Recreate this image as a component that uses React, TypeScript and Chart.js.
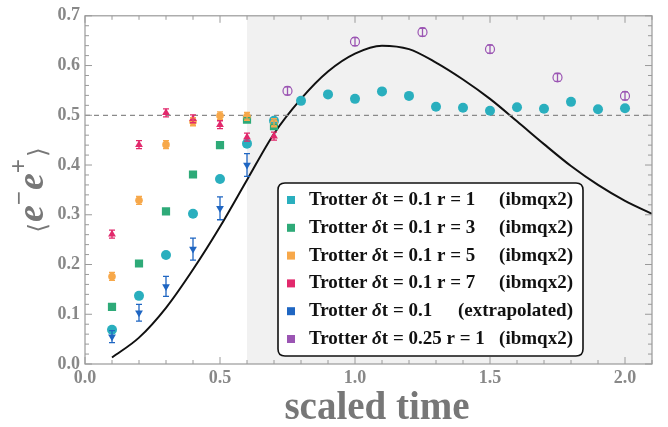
import React, { useEffect, useRef } from 'react';
import { Chart, registerables } from 'chart.js';

Chart.register(...registerables);

// ---------- data ----------
const timesR1 = [0.1, 0.2, 0.3, 0.4, 0.5, 0.6, 0.7, 0.8, 0.9, 1.0, 1.1, 1.2, 1.3, 1.4, 1.5, 1.6, 1.7, 1.8, 1.9, 2.0];
const r1Values = [0.069, 0.137, 0.219, 0.302, 0.372, 0.443, 0.489, 0.529, 0.542, 0.533, 0.548, 0.539, 0.517, 0.515, 0.509, 0.516, 0.513, 0.527, 0.512, 0.514];
const r1Errors = [0.004, 0.004, 0.004, 0.004, 0.004, 0.004, 0.004, 0.004, 0.004, 0.004, 0.004, 0.004, 0.004, 0.004, 0.004, 0.004, 0.004, 0.004, 0.004, 0.004];

const timesShort = [0.1, 0.2, 0.3, 0.4, 0.5, 0.6, 0.7];
const r3Values = [0.115, 0.202, 0.307, 0.381, 0.44, 0.491, 0.478];
const r3Errors = [0.004, 0.004, 0.004, 0.004, 0.004, 0.004, 0.004];
const r5Values = [0.176, 0.329, 0.441, 0.487, 0.499, 0.498, 0.485];
const r5Errors = [0.008, 0.008, 0.008, 0.008, 0.008, 0.008, 0.008];
const r7Values = [0.261, 0.441, 0.505, 0.493, 0.481, 0.456, 0.458];
const r7Errors = [0.008, 0.008, 0.008, 0.008, 0.008, 0.008, 0.008];

const timesExtrap = [0.1, 0.2, 0.3, 0.4, 0.5, 0.6];
const extrapValues = [0.055, 0.103, 0.156, 0.231, 0.313, 0.4];
const extrapErrors = [0.012, 0.017, 0.02, 0.022, 0.023, 0.023];

const times025 = [0.75, 1.0, 1.25, 1.5, 1.75, 2.0];
const dt025Values = [0.549, 0.648, 0.667, 0.633, 0.576, 0.539];
const dt025Errors = [0.008, 0.008, 0.008, 0.008, 0.008, 0.008];

const theoryTimes = [0.1, 0.2, 0.3, 0.4, 0.5, 0.6, 0.7, 0.8, 0.9, 1.0, 1.1, 1.2, 1.3, 1.4, 1.5, 1.6, 1.7, 1.8, 1.9, 2.0, 2.1];
const theoryValues = [0.013, 0.053, 0.113, 0.19, 0.276, 0.37, 0.463, 0.533, 0.588, 0.624, 0.64, 0.633, 0.606, 0.572, 0.533, 0.488, 0.442, 0.398, 0.36, 0.328, 0.302];

const refLevel = 0.5;
const shadeStart = 0.6;
const xMin = 0;
const xMax = 2.1;
const yMin = 0;
const yMax = 0.7;
const xTickValues = [0, 0.5, 1.0, 1.5, 2.0];
const yTickValues = [0, 0.1, 0.2, 0.3, 0.4, 0.5, 0.6, 0.7];

const legendMain = ['t = 0.1 r = 1', 't = 0.1 r = 3', 't = 0.1 r = 5', 't = 0.1 r = 7', 't = 0.1', 't = 0.25 r = 1'];
const legendTail = ['(ibmqx2)', '(ibmqx2)', '(ibmqx2)', '(ibmqx2)', '(extrapolated)', '(ibmqx2)'];
const legendColors = ['#2aafbe', '#2eaa78', '#f7a84a', '#e2296c', '#1f66c2', '#9b55b3'];
const xTitle = 'scaled time';

const SERIF = '"Liberation Serif", "DejaVu Serif", serif';
const GREY = '#777777';

const pts = (xs: number[], ys: number[]) => xs.map((x, i) => ({ x, y: ys[i] }));

const decorPlugin = {
  id: 'decor',
  beforeDatasetsDraw(chart: any) {
    const { ctx, chartArea } = chart;
    const xs = chart.scales.x;
    ctx.save();
    ctx.fillStyle = '#f1f1f1';
    const x0 = xs.getPixelForValue(shadeStart);
    ctx.fillRect(x0, chartArea.top, chartArea.right - x0, chartArea.bottom - chartArea.top);
    ctx.restore();
  },
  afterDatasetsDraw(chart: any) {
    const { ctx, chartArea } = chart;
    const xs = chart.scales.x;
    const ys = chart.scales.y;
    ctx.save();
    // error bars
    chart.data.datasets.forEach((ds: any, di: number) => {
      if (!ds.errors) return;
      const meta = chart.getDatasetMeta(di);
      ctx.strokeStyle = ds.errColor;
      ctx.lineWidth = 1.3;
      meta.data.forEach((el: any, i: number) => {
        const v = ds.data[i].y;
        const e = ds.errors[i];
        const yt = ys.getPixelForValue(v + e);
        const yb = ys.getPixelForValue(v - e);
        const x = el.x;
        ctx.beginPath();
        ctx.moveTo(x, yt); ctx.lineTo(x, yb);
        ctx.moveTo(x - 3, yt); ctx.lineTo(x + 3, yt);
        ctx.moveTo(x - 3, yb); ctx.lineTo(x + 3, yb);
        ctx.stroke();
      });
    });

    // frame
    ctx.strokeStyle = '#9a9a9a';
    ctx.lineWidth = 1.2;
    ctx.strokeRect(chartArea.left, chartArea.top, chartArea.right - chartArea.left, chartArea.bottom - chartArea.top);
    // ticks
    ctx.lineWidth = 1;
    ctx.beginPath();
    for (let k = 0; k <= 21; k++) {
      const v = k / 10;
      const major = k % 5 === 0;
      const len = major ? 7 : 4;
      const px = xs.getPixelForValue(v);
      ctx.moveTo(px, chartArea.bottom); ctx.lineTo(px, chartArea.bottom - len);
      ctx.moveTo(px, chartArea.top); ctx.lineTo(px, chartArea.top + len);
    }
    for (let k = 0; k <= 35; k++) {
      const v = k / 50;
      const major = k % 5 === 0;
      const len = major ? 7 : 4;
      const py = ys.getPixelForValue(v);
      ctx.moveTo(chartArea.left, py); ctx.lineTo(chartArea.left + len, py);
      ctx.moveTo(chartArea.right, py); ctx.lineTo(chartArea.right - len, py);
    }
    ctx.stroke();
    ctx.restore();
  },
  afterDraw(chart: any) {
    const { ctx } = chart;
    ctx.save();
    // legend box
    const bx = 278, by = 183, bw = 305, bh = 173, r = 7;
    ctx.beginPath();
    ctx.moveTo(bx + r, by);
    ctx.lineTo(bx + bw - r, by);
    ctx.quadraticCurveTo(bx + bw, by, bx + bw, by + r);
    ctx.lineTo(bx + bw, by + bh - r);
    ctx.quadraticCurveTo(bx + bw, by + bh, bx + bw - r, by + bh);
    ctx.lineTo(bx + r, by + bh);
    ctx.quadraticCurveTo(bx, by + bh, bx, by + bh - r);
    ctx.lineTo(bx, by + r);
    ctx.quadraticCurveTo(bx, by, bx + r, by);
    ctx.closePath();
    ctx.fillStyle = '#ffffff';
    ctx.fill();
    ctx.strokeStyle = '#111';
    ctx.lineWidth = 1.6;
    ctx.stroke();

    ctx.textBaseline = 'middle';
    for (let i = 0; i < legendMain.length; i++) {
      const cy = 200 + i * 27.8;
      ctx.fillStyle = legendColors[i];
      ctx.fillRect(287, cy - 4, 8, 8);
      ctx.fillStyle = '#111';
      let x = 309;
      ctx.textAlign = 'left';
      ctx.font = `bold 19px ${SERIF}`;
      ctx.fillText('Trotter ', x, cy);
      x += ctx.measureText('Trotter ').width;
      ctx.font = `italic bold 19px ${SERIF}`;
      ctx.fillText('δ', x, cy);
      x += ctx.measureText('δ').width;
      ctx.font = `bold 19px ${SERIF}`;
      ctx.fillText(legendMain[i], x, cy);
      ctx.textAlign = 'right';
      ctx.fillText(legendTail[i], 573, cy);
    }

    // x title
    ctx.fillStyle = GREY;
    ctx.textAlign = 'center';
    ctx.textBaseline = 'alphabetic';
    ctx.font = `bold 39px ${SERIF}`;
    ctx.fillText(xTitle, 377, 419);

    // y title ⟨e⁻e⁺⟩ (rotated, reading bottom to top)
    ctx.translate(43, 190);
    ctx.rotate(-Math.PI / 2);
    const eFont = `italic bold 38px ${SERIF}`;
    const supFont = `bold 25px ${SERIF}`;
    const brFont = `25px "DejaVu Sans", sans-serif`;
    const parts = [
      { t: '⟨', f: brFont, dy: -4, mid: true, gap: 1 },
      { t: 'e', f: eFont, dy: 0, mid: false, gap: 0 },
      { t: '−', f: supFont, dy: -16, mid: false, gap: 1 },
      { t: 'e', f: eFont, dy: 0, mid: false, gap: 0 },
      { t: '+', f: supFont, dy: -16, mid: false, gap: 2 },
      { t: '⟩', f: brFont, dy: -4, mid: true, gap: 0 },
    ];
    let total = 0;
    const widths = parts.map((p) => { ctx.font = p.f; const w = ctx.measureText(p.t).width + p.gap; total += w; return w; });
    let px = -total / 2;
    ctx.textAlign = 'left';
    parts.forEach((p, i) => {
      ctx.font = p.f;
      ctx.textBaseline = p.mid ? 'middle' : 'alphabetic';
      ctx.fillText(p.t, px, p.dy);
      px += widths[i];
    });
    ctx.restore();
  },
};

export default function App() {
  const ref = useRef<HTMLCanvasElement | null>(null);
  useEffect(() => {
    if (!ref.current) return;
    const chart = new Chart(ref.current, {
      type: 'scatter',
      data: {
        datasets: [
          {
            label: 'theory',
            data: pts(theoryTimes, theoryValues),
            showLine: true,
            borderColor: '#111',
            borderWidth: 2,
            pointRadius: 0,
            cubicInterpolationMode: 'monotone',
            order: 10,
          } as any,
          {
            label: 'reference',
            data: [{ x: xMin, y: refLevel }, { x: xMax, y: refLevel }],
            showLine: true,
            borderColor: '#8a8a8a',
            borderWidth: 1.3,
            borderDash: [5, 4],
            pointRadius: 0,
            order: 9,
          } as any,
          {
            label: 'r1',
            data: pts(timesR1, r1Values),
            pointStyle: 'circle',
            pointRadius: 5,
            backgroundColor: legendColors[0],
            borderColor: legendColors[0],
            borderWidth: 0,
            errors: r1Errors,
            errColor: legendColors[0],
            order: 6,
          } as any,
          {
            label: 'r3',
            data: pts(timesShort, r3Values),
            pointStyle: 'rect',
            pointRadius: 5.8,
            backgroundColor: legendColors[1],
            borderColor: legendColors[1],
            borderWidth: 0,
            errors: r3Errors,
            errColor: legendColors[1],
            order: 5,
          } as any,
          {
            label: 'r5',
            data: pts(timesShort, r5Values),
            pointStyle: 'circle',
            pointRadius: 3.8,
            backgroundColor: legendColors[2],
            borderColor: legendColors[2],
            borderWidth: 0,
            errors: r5Errors,
            errColor: legendColors[2],
            order: 4,
          } as any,
          {
            label: 'r7',
            data: pts(timesShort, r7Values),
            pointStyle: 'triangle',
            pointRadius: 4.5,
            backgroundColor: legendColors[3],
            borderColor: legendColors[3],
            borderWidth: 0,
            errors: r7Errors,
            errColor: legendColors[3],
            order: 3,
          } as any,
          {
            label: 'extrap',
            data: pts(timesExtrap, extrapValues),
            pointStyle: 'triangle',
            rotation: 180,
            pointRadius: 4.5,
            backgroundColor: legendColors[4],
            borderColor: legendColors[4],
            borderWidth: 0,
            errors: extrapErrors,
            errColor: legendColors[4],
            order: 2,
          } as any,
          {
            label: 'dt025',
            data: pts(times025, dt025Values),
            pointStyle: 'circle',
            pointRadius: 4.5,
            backgroundColor: 'rgba(0,0,0,0)',
            borderColor: legendColors[5],
            borderWidth: 1.2,
            errors: dt025Errors,
            errColor: legendColors[5],
            order: 1,
          } as any,
        ],
      },
      options: {
        animation: false,
        responsive: false,
        devicePixelRatio: 1,
        layout: { padding: { left: 0, top: 14, right: 16, bottom: 0 } },
        plugins: { legend: { display: false }, tooltip: { enabled: false } },
        scales: {
          x: {
            type: 'linear',
            min: xMin,
            max: xMax,
            grid: { display: false, drawTicks: false },
            border: { display: false },
            afterFit: (s: any) => { s.height = 63; },
            afterBuildTicks: (s: any) => { s.ticks = xTickValues.map((v) => ({ value: v })); },
            ticks: {
              padding: 4,
              color: '#888',
              font: { family: SERIF, size: 18, weight: 'bold' },
              callback: (v: any) => Number(v).toFixed(1),
            },
          },
          y: {
            type: 'linear',
            min: yMin,
            max: yMax,
            grid: { display: false, drawTicks: false },
            border: { display: false },
            afterFit: (s: any) => { s.width = 85; },
            afterBuildTicks: (s: any) => { s.ticks = yTickValues.map((v) => ({ value: v })); },
            ticks: {
              padding: 5,
              color: '#888',
              font: { family: SERIF, size: 18, weight: 'bold' },
              callback: (v: any) => Number(v).toFixed(1),
            },
          },
        },
      } as any,
      plugins: [decorPlugin],
    });
    return () => chart.destroy();
  }, []);
  return (
    <div style={{ position: 'absolute', left: 0, top: 0, width: 668, height: 427, background: '#fff' }}>
      <canvas ref={ref} width={668} height={427} style={{ display: 'block' }} />
    </div>
  );
}
